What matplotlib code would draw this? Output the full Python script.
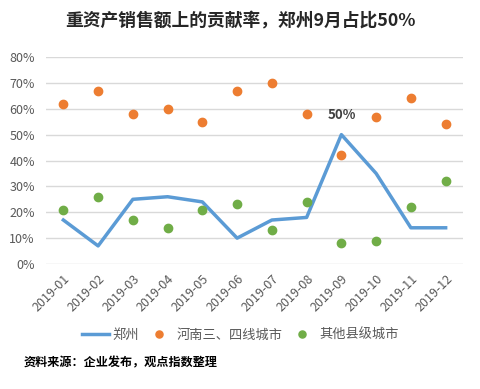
import matplotlib
matplotlib.use("Agg")
import matplotlib.pyplot as plt
from matplotlib.ticker import FuncFormatter, MultipleLocator

plt.rcParams['font.family'] = ['Noto Sans CJK SC', 'DejaVu Sans']

months = ["2019-01", "2019-02", "2019-03", "2019-04", "2019-05", "2019-06",
          "2019-07", "2019-08", "2019-09", "2019-10", "2019-11", "2019-12"]
zhengzhou = [17, 7, 25, 26, 24, 10, 17, 18, 50, 35, 14, 14]
henan_34 = [62, 67, 58, 60, 55, 67, 70, 58, 42, 57, 64, 54]
county = [21, 26, 17, 14, 21, 23, 13, 24, 8, 9, 22, 32]

title = "重资产销售额上的贡献率，郑州9月占比50%"
source = "资料来源：企业发布，观点指数整理"
names = ["郑州", "河南三、四线城市", "其他县级城市"]

fig = plt.figure(figsize=(4.81, 3.89), dpi=100)
ax = fig.add_axes([0.0956, 0.3213, 0.867, 0.5322])

x = list(range(len(months)))
ax.plot(x, [v / 100 for v in zhengzhou], color="#5B9BD5", lw=2.5, label=names[0], zorder=3)
ax.plot(x, [v / 100 for v in henan_34], 'o', color="#ED7D31", ms=6, label=names[1], zorder=4)
ax.plot(x, [v / 100 for v in county], 'o', color="#70AD47", ms=6, label=names[2], zorder=4)

i9 = 8
ax.annotate(f"{zhengzhou[i9]}%", (i9, zhengzhou[i9] / 100), xytext=(0, 9),
            textcoords="offset points", ha="center", va="bottom",
            fontsize=9.5, fontweight="bold", color="#404040")

ax.set_xlim(-0.5, len(months) - 0.5)
ax.set_ylim(0, 0.8)
ax.yaxis.set_major_locator(MultipleLocator(0.1))
ax.yaxis.set_major_formatter(FuncFormatter(lambda v, p: f"{v*100:.0f}%"))
ax.set_xticks(x)
ax.set_xticklabels(months, rotation=45, ha="right", rotation_mode="anchor")
ax.tick_params(axis="both", length=0, colors="#595959", labelsize=9)
ax.tick_params(axis="x", pad=6)
ax.tick_params(axis="y", pad=8)
ax.grid(axis="y", color="#D9D9D9", lw=1)
ax.set_axisbelow(True)
for s in ax.spines.values():
    s.set_visible(False)

fig.text(0.5, 0.945, title, ha="center", va="center", fontsize=12.8,
         fontweight="bold", color="#262626")

leg = fig.legend(loc="center", bbox_to_anchor=(0.5, 0.138), ncol=3, frameon=False,
                 fontsize=9.5, handlelength=2.0, columnspacing=0.5, handletextpad=0.3,
                 markerscale=0.85)
for t in leg.get_texts():
    t.set_color("#595959")

fig.text(0.05, 0.067, source, ha="left", va="center", fontsize=8.7,
         fontweight="bold", color="black")

fig.savefig("out.png", dpi=100)
